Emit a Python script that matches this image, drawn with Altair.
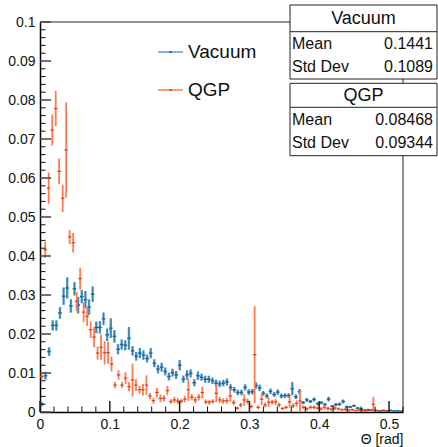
import altair as alt
import pandas as pd

# ---------------- data ----------------
vac_values = [0.002, 0.0093, 0.0155, 0.0222, 0.0222, 0.0254, 0.0297, 0.0318, 0.0272, 0.0316,
              0.0274, 0.0296, 0.0288, 0.0269, 0.0302, 0.0217, 0.0217, 0.0239, 0.0198, 0.0215,
              0.0194, 0.0161, 0.0173, 0.0171, 0.0189, 0.0157, 0.0143, 0.0151, 0.0146, 0.0137,
              0.0151, 0.0125, 0.011, 0.0115, 0.0104, 0.0091, 0.0101, 0.0095, 0.012, 0.0084,
              0.0095, 0.0099, 0.0075, 0.0093, 0.0089, 0.0084, 0.0084, 0.008, 0.0074, 0.0072,
              0.0074, 0.0077, 0.0063, 0.0057, 0.005, 0.005, 0.0063, 0.0051, 0.0052, 0.0068,
              0.0062, 0.0048, 0.0041, 0.0053, 0.0045, 0.0051, 0.0041, 0.0042, 0.0042, 0.006,
              0.0039, 0.0052, 0.0024, 0.0031, 0.0027, 0.0032, 0.0021, 0.0024, 0.0019, 0.0033,
              0.0015, 0.0019, 0.002, 0.0027, 0.0013, 0.0013, 0.0016, 0.001, 0.0008, 0.0005,
              0.0006, 0.0005, 0.0004, 0.0003, 0.0004, 0.0003, 0.0004, 0.0003, 0.0003, 0.0002]
vac_errors = [0.0005, 0.001, 0.0011, 0.0013, 0.0013, 0.0015, 0.0022, 0.0027, 0.0017, 0.0017,
              0.0021, 0.0017, 0.0022, 0.002, 0.002, 0.0015, 0.0016, 0.0016, 0.0016, 0.0025,
              0.0016, 0.0013, 0.0013, 0.0013, 0.0029, 0.0012, 0.0011, 0.0013, 0.0012, 0.001,
              0.0013, 0.001, 0.0011, 0.0011, 0.001, 0.001, 0.001, 0.001, 0.0013, 0.0009,
              0.0012, 0.001, 0.0009, 0.0011, 0.0009, 0.0009, 0.0009, 0.0008, 0.0009, 0.0008,
              0.0008, 0.0009, 0.0008, 0.0007, 0.0007, 0.0007, 0.0008, 0.0007, 0.0007, 0.0008,
              0.0008, 0.0006, 0.0006, 0.0007, 0.0006, 0.0007, 0.0006, 0.0006, 0.0006, 0.0017,
              0.0006, 0.0007, 0.0004, 0.0005, 0.0004, 0.0005, 0.0004, 0.0004, 0.0004, 0.0006,
              0.0003, 0.0004, 0.0004, 0.0005, 0.0003, 0.0003, 0.0003, 0.0003, 0.0003, 0.0002,
              0.0002, 0.0002, 0.0002, 0.0002, 0.0002, 0.0002, 0.0002, 0.0002, 0.0002, 0.0001]

qgp_values = [0.0091, 0.0416, 0.0574, 0.0723, 0.0778, 0.0617, 0.0548, 0.0672, 0.0449, 0.0434,
              0.0284, 0.0342, 0.0256, 0.0245, 0.0211, 0.0192, 0.0151, 0.0166, 0.0152, 0.0152,
              0.0123, 0.0069, 0.0095, 0.0069, 0.0087, 0.0065, 0.0082, 0.0069, 0.0057, 0.0057,
              0.0069, 0.0041, 0.0029, 0.005, 0.0035, 0.0035, 0.0055, 0.0027, 0.0031, 0.0028,
              0.0028, 0.0033, 0.0057, 0.0038, 0.0031, 0.0038, 0.005, 0.0026, 0.0025, 0.0027,
              0.0048, 0.0031, 0.0028, 0.0029, 0.0041, 0.0024, 0.001, 0.0018, 0.0031, 0.0027,
              0.0014, 0.0147, 0.0012, 0.0033, 0.0018, 0.0025, 0.0025, 0.0026, 0.0018, 0.0009,
              0.0012, 0.0026, 0.0016, 0.0022, 0.0028, 0.0012, 0.0008, 0.0012, 0.0012, 0.001,
              0.0008, 0.0012, 0.0009, 0.0007, 0.001, 0.0008, 0.0006, 0.0007, 0.0005, 0.0006,
              0.0004, 0.0005, 0.0004, 0.0003, 0.0004, 0.002, 0.0003, 0.0002, 0.0003, 0.0002]
qgp_errors = [0.0008, 0.0021, 0.004, 0.004, 0.0045, 0.0033, 0.0035, 0.0122, 0.0018, 0.0025,
              0.0024, 0.0028, 0.0025, 0.0024, 0.0021, 0.0026, 0.0017, 0.0032, 0.003, 0.0028,
              0.0019, 0.0008, 0.0012, 0.0008, 0.0015, 0.0012, 0.0042, 0.0015, 0.001, 0.0015,
              0.0025, 0.0008, 0.0008, 0.0012, 0.001, 0.0008, 0.0012, 0.0006, 0.0008, 0.0008,
              0.0006, 0.0008, 0.0029, 0.0008, 0.0008, 0.0008, 0.0015, 0.0006, 0.0006, 0.0006,
              0.0023, 0.0008, 0.0007, 0.0008, 0.0015, 0.0007, 0.0004, 0.0006, 0.0015, 0.0007,
              0.0005, 0.0124, 0.0005, 0.0015, 0.0006, 0.0012, 0.0006, 0.0008, 0.0006, 0.0004,
              0.0004, 0.0015, 0.0006, 0.0008, 0.0026, 0.0005, 0.0004, 0.0005, 0.0005, 0.0004,
              0.0004, 0.0006, 0.0005, 0.0004, 0.0005, 0.0004, 0.0003, 0.0004, 0.0003, 0.0003,
              0.0002, 0.0003, 0.0002, 0.0002, 0.0002, 0.0019, 0.0002, 0.0001, 0.0002, 0.0001]

vac_bin_width = 0.0052   # 100 bins on [0, 0.52]
qgp_bin_width = 0.005    # 100 bins on [0, 0.50]

x_major = [0, 0.1, 0.2, 0.3, 0.4, 0.5]
x_minor = [0.02, 0.04, 0.06, 0.08, 0.12, 0.14, 0.16, 0.18, 0.22, 0.24, 0.26, 0.28,
           0.32, 0.34, 0.36, 0.38, 0.42, 0.44, 0.46, 0.48, 0.52]
y_major = [0, 0.01, 0.02, 0.03, 0.04, 0.05, 0.06, 0.07, 0.08, 0.09, 0.1]
y_minor = [0.002, 0.004, 0.006, 0.008, 0.012, 0.014, 0.016, 0.018, 0.022, 0.024, 0.026, 0.028,
           0.032, 0.034, 0.036, 0.038, 0.042, 0.044, 0.046, 0.048, 0.052, 0.054, 0.056, 0.058,
           0.062, 0.064, 0.066, 0.068, 0.072, 0.074, 0.076, 0.078, 0.082, 0.084, 0.086, 0.088,
           0.092, 0.094, 0.096, 0.098]

stats_names = ["Vacuum", "QGP"]
stats_mean = ["0.1441", "0.08468"]
stats_std = ["0.1089", "0.09344"]

# ---------------- styling ----------------
FONT = "Liberation Sans, Arial, sans-serif"
W, H = 363, 390
BLUE_DARK = "#1a6596"
BLUE_LIGHT = "#5d9fca"
ORANGE = "#ff7a4e"
ORANGE_DARK = "#d4421a"


def make_df(values, errors, width):
    rows = []
    for i, (v, e) in enumerate(zip(values, errors)):
        lo = i * width
        rows.append({"lo": lo, "hi": lo + width, "c": lo + width / 2,
                     "v": v, "vlo": max(v - e, 0), "vhi": v + e})
    return pd.DataFrame(rows)


vac = make_df(vac_values, vac_errors, vac_bin_width)
qgp = make_df(qgp_values, qgp_errors, qgp_bin_width)

xscale = alt.Scale(domain=[0, 0.52], nice=False, zero=False)
yscale = alt.Scale(domain=[0, 0.1], nice=False, zero=False)
xaxis = alt.Axis(values=x_major, format=".1~f", labelFlush=False, ticks=False, grid=False,
                 domainColor="black", domainWidth=1.5, labelFontSize=14, labelFont=FONT,
                 labelColor="#111111", labelPadding=5, title="Θ [rad]", titleAnchor="end",
                 titleFont=FONT, titleFontSize=14, titleFontWeight="normal",
                 titleColor="#111111", titlePadding=1, labelOverlap=False)
yaxis = alt.Axis(values=y_major, format=".2~f", labelFlush=False, ticks=False, grid=False,
                 domainColor="black", domainWidth=1.5, labelFontSize=14, labelFont=FONT,
                 labelColor="#111111", labelPadding=5, title=None, labelOverlap=False)


def X(f):
    return alt.X(f, type="quantitative", scale=xscale, axis=xaxis)


def Y(f):
    return alt.Y(f, type="quantitative", scale=yscale, axis=yaxis)


one = pd.DataFrame({"a": [0]})

# frame (top and right)
frame_top = alt.Chart(one).mark_rule(color="#222222", strokeWidth=1).encode(
    x=alt.value(0), x2=alt.value(W), y=alt.value(0))
frame_right = alt.Chart(one).mark_rule(color="#222222", strokeWidth=1).encode(
    x=alt.value(W), y=alt.value(0), y2=alt.value(H))

# ticks (inward, ROOT style)
ytick_major = alt.Chart(pd.DataFrame({"t": y_major})).mark_rule(
    color="#444444", strokeWidth=1.5).encode(y=Y("t"), x=alt.value(0), x2=alt.value(11))
ytick_minor = alt.Chart(pd.DataFrame({"t": y_minor})).mark_rule(
    color="#111111", strokeWidth=1).encode(y=Y("t"), x=alt.value(0), x2=alt.value(5.5))
xtick_major = alt.Chart(pd.DataFrame({"t": x_major})).mark_rule(
    color="#222222", strokeWidth=1.5).encode(x=X("t"), y=alt.value(H), y2=alt.value(H - 11))
xtick_minor = alt.Chart(pd.DataFrame({"t": x_minor})).mark_rule(
    color="#111111", strokeWidth=1).encode(x=X("t"), y=alt.value(H), y2=alt.value(H - 5.5))

# histograms
vac_v = alt.Chart(vac).mark_rule(color=BLUE_LIGHT, strokeWidth=2.4).encode(
    x=X("c"), y=Y("vlo"), y2=alt.Y2("vhi"))
vac_core = alt.Chart(vac).mark_rule(color=BLUE_DARK, strokeWidth=0.8, opacity=0.7).encode(
    x=X("c"), y=Y("vlo"), y2=alt.Y2("vhi"))
vac_h = alt.Chart(vac).mark_rule(color=BLUE_DARK, strokeWidth=1.4).encode(
    x=X("lo"), x2=alt.X2("hi"), y=Y("v"))

qgp_v = alt.Chart(qgp).mark_rule(color=ORANGE, strokeWidth=1.8).encode(
    x=X("c"), y=Y("vlo"), y2=alt.Y2("vhi"))
qgp_h = alt.Chart(qgp).mark_rule(color=ORANGE_DARK, strokeWidth=1.2).encode(
    x=X("lo"), x2=alt.X2("hi"), y=Y("v"))

# legend
leg_vac = alt.Chart(one).mark_rule(color=BLUE_LIGHT, strokeWidth=1.5).encode(
    x=alt.value(118), x2=alt.value(143), y=alt.value(30))
leg_vac_c = alt.Chart(one).mark_rule(color=BLUE_DARK, strokeWidth=1.5).encode(
    x=alt.value(129), x2=alt.value(132), y=alt.value(30))
leg_qgp = alt.Chart(one).mark_rule(color=ORANGE, strokeWidth=1.5).encode(
    x=alt.value(118), x2=alt.value(143), y=alt.value(68))
leg_qgp_c = alt.Chart(one).mark_rule(color=ORANGE_DARK, strokeWidth=1.5).encode(
    x=alt.value(129), x2=alt.value(132), y=alt.value(68))
leg_txt = alt.Chart(pd.DataFrame({"name": stats_names, "yy": [30, 68]})).mark_text(
    font=FONT, fontSize=19, align="left", baseline="middle", color="#111111").encode(
    text="name:N", x=alt.value(148), y=alt.Y("yy:Q", scale=None))

# stat boxes
box_df = pd.DataFrame({"y0": [-17, 61.3], "y1": [57, 133.7], "ys": [9.7, 85.3],
                       "ty": [-3.5, 74], "my": [21.5, 98], "sy": [44.7, 121.3],
                       "name": stats_names, "mean": stats_mean, "std": stats_std})
boxes = alt.Chart(box_df).mark_rect(fill="white", stroke="#222222", strokeWidth=1).encode(
    x=alt.value(250), x2=alt.value(397), y=alt.Y("y0:Q", scale=None), y2="y1:Q")
seps = alt.Chart(box_df).mark_rule(color="#222222", strokeWidth=1).encode(
    x=alt.value(250), x2=alt.value(397), y=alt.Y("ys:Q", scale=None))
titles = alt.Chart(box_df).mark_text(font=FONT, fontSize=18, align="center",
                                     baseline="middle", color="#111111").encode(
    text="name:N", x=alt.value(323.5), y=alt.Y("ty:Q", scale=None))
mean_lbl = alt.Chart(box_df).mark_text(font=FONT, fontSize=16, align="left",
                                       baseline="middle", color="#111111").encode(
    text=alt.value("Mean"), x=alt.value(252), y=alt.Y("my:Q", scale=None))
mean_val = alt.Chart(box_df).mark_text(font=FONT, fontSize=16, align="right",
                                       baseline="middle", color="#111111").encode(
    text="mean:N", x=alt.value(393), y=alt.Y("my:Q", scale=None))
std_lbl = alt.Chart(box_df).mark_text(font=FONT, fontSize=16, align="left",
                                      baseline="middle", color="#111111").encode(
    text=alt.value("Std Dev"), x=alt.value(252), y=alt.Y("sy:Q", scale=None))
std_val = alt.Chart(box_df).mark_text(font=FONT, fontSize=16, align="right",
                                      baseline="middle", color="#111111").encode(
    text="std:N", x=alt.value(393), y=alt.Y("sy:Q", scale=None))

chart = alt.layer(
    vac_v, vac_core, vac_h, qgp_v, qgp_h,
    frame_top, frame_right,
    ytick_major, ytick_minor, xtick_major, xtick_minor,
    leg_vac, leg_vac_c, leg_qgp, leg_qgp_c, leg_txt,
    boxes, seps, titles, mean_lbl, mean_val, std_lbl, std_val,
).properties(
    width=W, height=H,
    autosize=alt.AutoSizeParams(type="none"),
    padding={"left": 40, "top": 22, "right": 35, "bottom": 35},
    background="white",
).configure_view(stroke=None)

chart.save("out.html", embed_options={"renderer": "svg", "actions": False})
